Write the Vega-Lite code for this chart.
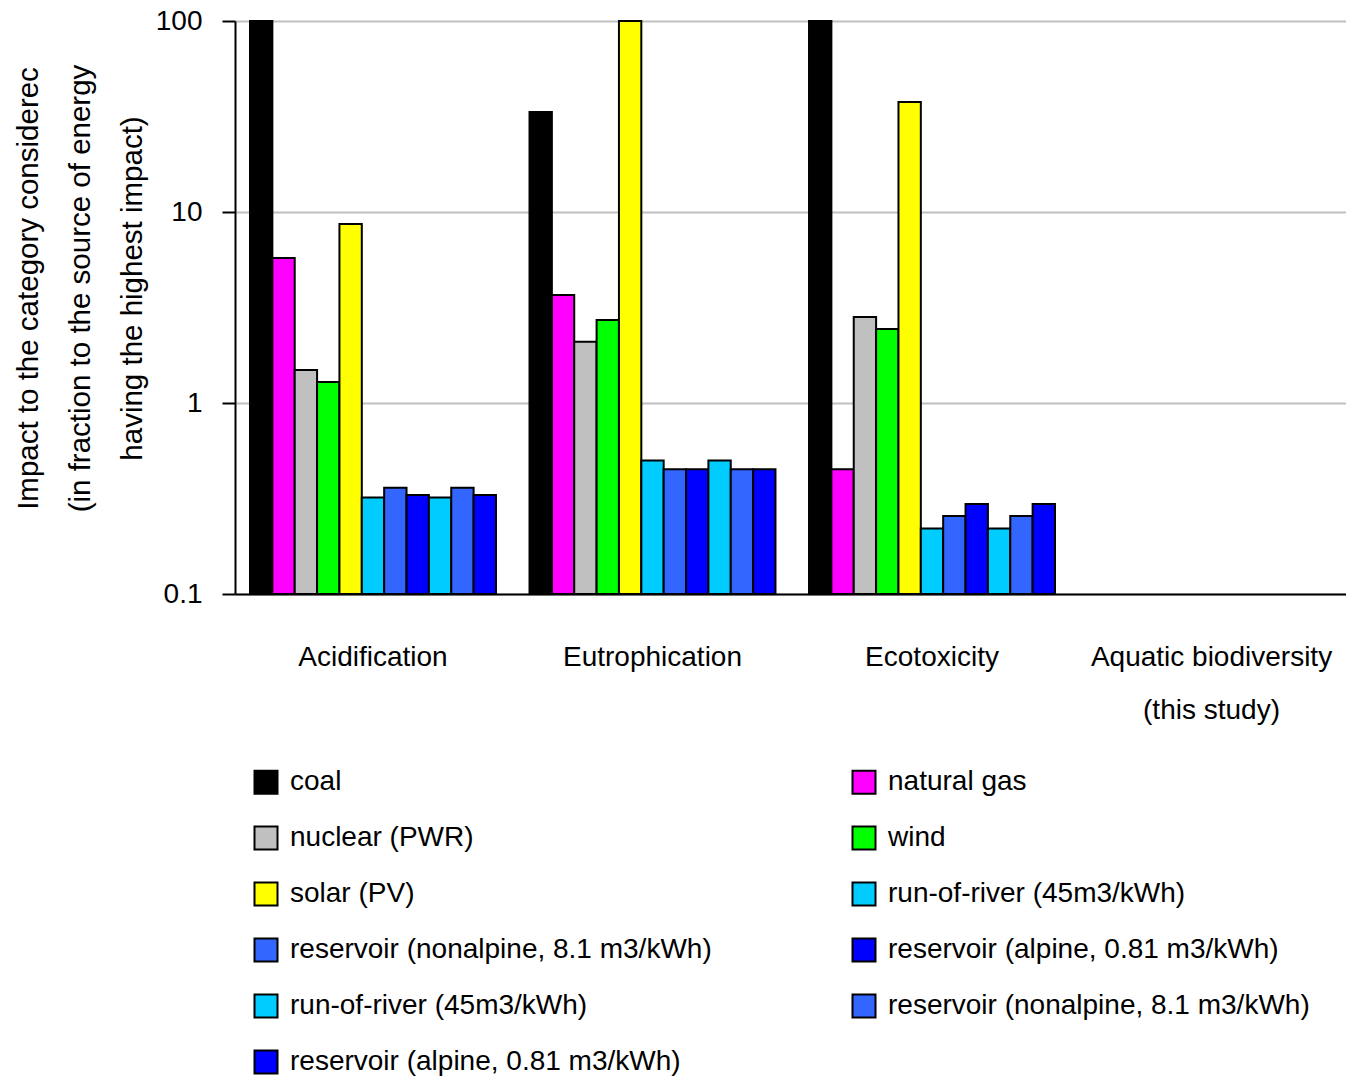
{
  "$schema": "https://vega.github.io/schema/vega-lite/v6.json",
  "autosize": {"type": "none"},
  "padding": {"left": 235, "top": 21, "right": 0, "bottom": 484},
  "width": 1111,
  "height": 573,
  "background": "white",
  "config": {"view": {"stroke": null}, "font": "Liberation Sans"},
  "data": {"values": [
    {"category": "Acidification", "series": "01coal", "value": 100},
    {"category": "Acidification", "series": "02natural gas", "value": 5.74},
    {"category": "Acidification", "series": "03nuclear (PWR)", "value": 1.49},
    {"category": "Acidification", "series": "04wind", "value": 1.29},
    {"category": "Acidification", "series": "05solar (PV)", "value": 8.66},
    {"category": "Acidification", "series": "06run-of-river (45m3/kWh)", "value": 0.32},
    {"category": "Acidification", "series": "07reservoir (nonalpine, 8.1 m3/kWh)", "value": 0.36},
    {"category": "Acidification", "series": "08reservoir (alpine, 0.81 m3/kWh)", "value": 0.33},
    {"category": "Acidification", "series": "09run-of-river (45m3/kWh)", "value": 0.32},
    {"category": "Acidification", "series": "10reservoir (nonalpine, 8.1 m3/kWh)", "value": 0.36},
    {"category": "Acidification", "series": "11reservoir (alpine, 0.81 m3/kWh)", "value": 0.33},
    {"category": "Eutrophication", "series": "01coal", "value": 33.4},
    {"category": "Eutrophication", "series": "02natural gas", "value": 3.68},
    {"category": "Eutrophication", "series": "03nuclear (PWR)", "value": 2.09},
    {"category": "Eutrophication", "series": "04wind", "value": 2.72},
    {"category": "Eutrophication", "series": "05solar (PV)", "value": 100},
    {"category": "Eutrophication", "series": "06run-of-river (45m3/kWh)", "value": 0.5},
    {"category": "Eutrophication", "series": "07reservoir (nonalpine, 8.1 m3/kWh)", "value": 0.45},
    {"category": "Eutrophication", "series": "08reservoir (alpine, 0.81 m3/kWh)", "value": 0.45},
    {"category": "Eutrophication", "series": "09run-of-river (45m3/kWh)", "value": 0.5},
    {"category": "Eutrophication", "series": "10reservoir (nonalpine, 8.1 m3/kWh)", "value": 0.45},
    {"category": "Eutrophication", "series": "11reservoir (alpine, 0.81 m3/kWh)", "value": 0.45},
    {"category": "Ecotoxicity", "series": "01coal", "value": 100},
    {"category": "Ecotoxicity", "series": "02natural gas", "value": 0.45},
    {"category": "Ecotoxicity", "series": "03nuclear (PWR)", "value": 2.82},
    {"category": "Ecotoxicity", "series": "04wind", "value": 2.44},
    {"category": "Ecotoxicity", "series": "05solar (PV)", "value": 37.7},
    {"category": "Ecotoxicity", "series": "06run-of-river (45m3/kWh)", "value": 0.22},
    {"category": "Ecotoxicity", "series": "07reservoir (nonalpine, 8.1 m3/kWh)", "value": 0.256},
    {"category": "Ecotoxicity", "series": "08reservoir (alpine, 0.81 m3/kWh)", "value": 0.296},
    {"category": "Ecotoxicity", "series": "09run-of-river (45m3/kWh)", "value": 0.22},
    {"category": "Ecotoxicity", "series": "10reservoir (nonalpine, 8.1 m3/kWh)", "value": 0.256},
    {"category": "Ecotoxicity", "series": "11reservoir (alpine, 0.81 m3/kWh)", "value": 0.296}
  ]},
  "mark": {"type": "bar", "stroke": "black", "strokeWidth": 2},
  "encoding": {
    "x": {
      "field": "category", "type": "nominal", "title": null,
      "scale": {"domain": ["Acidification", "Eutrophication", "Ecotoxicity", "Aquatic biodiversity (this study)"], "paddingInner": 0.12, "paddingOuter": 0.0474, "align": 0.566},
      "axis": {
        "domainColor": "black", "domainWidth": 2, "ticks": false, "tickSize": 0, "grid": false,
        "labelAngle": 0, "labelFontSize": 28, "labelColor": "black", "labelPadding": 49, "labelLineHeight": 53, "labelLimit": 500,
        "labelExpr": "datum.label == 'Aquatic biodiversity (this study)' ? ['Aquatic biodiversity', '(this study)'] : datum.label"
      }
    },
    "xOffset": {
      "field": "series", "type": "nominal",
      "scale": {"domain": ["01coal", "02natural gas", "03nuclear (PWR)", "04wind", "05solar (PV)", "06run-of-river (45m3/kWh)", "07reservoir (nonalpine, 8.1 m3/kWh)", "08reservoir (alpine, 0.81 m3/kWh)", "09run-of-river (45m3/kWh)", "10reservoir (nonalpine, 8.1 m3/kWh)", "11reservoir (alpine, 0.81 m3/kWh)"], "paddingInner": 0, "paddingOuter": 0}
    },
    "y": {
      "field": "value", "type": "quantitative",
      "scale": {"type": "log", "domain": [0.1, 100]},
      "axis": {
        "values": [0.1, 1, 10, 100],
        "labelExpr": "datum.value < 0.5 ? '0.1' : format(datum.value, 'd')",
        "grid": true, "gridColor": "#c0c0c0", "gridWidth": 2,
        "domainColor": "black", "domainWidth": 2,
        "tickColor": "black", "tickWidth": 2, "tickSize": 13,
        "labelFontSize": 28, "labelColor": "black", "labelPadding": 20,
        "title": ["Impact to the category considerec", "(in fraction to the source of energy", "having the highest impact)"],
        "titleFont": "Liberation Sans", "titleFontSize": 29.5, "titleFontWeight": "normal", "titleColor": "black",
        "titleLineHeight": 52, "titleAngle": -90, "titleAlign": "center", "titleBaseline": "middle",
        "titleX": -207, "titleY": 267
      }
    },
    "y2": {"datum": 0.1},
    "color": {
      "field": "series", "type": "nominal",
      "scale": {
        "domain": ["01coal", "02natural gas", "03nuclear (PWR)", "04wind", "05solar (PV)", "06run-of-river (45m3/kWh)", "07reservoir (nonalpine, 8.1 m3/kWh)", "08reservoir (alpine, 0.81 m3/kWh)", "09run-of-river (45m3/kWh)", "10reservoir (nonalpine, 8.1 m3/kWh)", "11reservoir (alpine, 0.81 m3/kWh)"],
        "range": ["#000000", "#FF00FF", "#C0C0C0", "#00FF00", "#FFFF00", "#00CCFF", "#3366FF", "#0000FF", "#00CCFF", "#3366FF", "#0000FF"]
      },
      "legend": {
        "title": null, "orient": "none", "legendX": 17, "legendY": 747, "direction": "horizontal",
        "columns": 2, "columnPadding": 136, "rowPadding": 24, "padding": 0, "gridAlign": "all",
        "symbolType": "square", "symbolSize": 529, "symbolStrokeColor": "black", "symbolStrokeWidth": 2,
        "labelFontSize": 28, "labelColor": "black", "labelOffset": 10, "labelLimit": 700,
        "labelExpr": "substring(datum.label, 2)"
      }
    }
  }
}
